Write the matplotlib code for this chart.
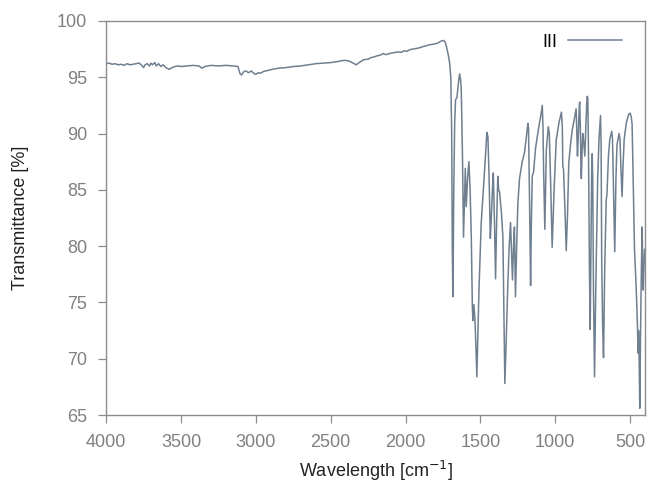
'''
IR spectrum of compound III
'''

import matplotlib
matplotlib.use('Agg')
import matplotlib.pyplot as plt

# wavenumber (cm^-1) and transmittance (%)
wavenumber = [
    4000, 3980, 3960, 3940, 3920, 3900, 3880, 3860, 3840, 3820,
    3800, 3780, 3765, 3750, 3740, 3725, 3710, 3700, 3690, 3675,
    3665, 3650, 3635, 3620, 3600, 3580, 3560, 3540, 3520, 3500,
    3460, 3420, 3380, 3360, 3340, 3300, 3250, 3200, 3150, 3120,
    3105, 3095, 3080, 3065, 3050, 3030, 3010, 3000, 2985, 2970,
    2950, 2920, 2890, 2850, 2800, 2750, 2700, 2650, 2600, 2550,
    2500, 2450, 2410, 2380, 2350, 2330, 2310, 2280, 2250, 2230,
    2210, 2190, 2170, 2150, 2130, 2110, 2090, 2070, 2050, 2030,
    2010, 1990, 1970, 1950, 1930, 1910, 1890, 1870, 1850, 1830,
    1810, 1790, 1770, 1755, 1745, 1735, 1725, 1715, 1705, 1698,
    1692, 1688, 1684, 1678, 1672, 1666, 1657, 1647, 1639, 1633,
    1628, 1620, 1613, 1607, 1601, 1595, 1586, 1577, 1569, 1561,
    1554, 1550, 1544, 1537, 1530, 1524, 1510, 1495, 1472, 1460,
    1457, 1450, 1442, 1434, 1427, 1420, 1414, 1406, 1399, 1392,
    1384, 1378, 1372, 1359, 1350, 1343, 1337, 1327, 1317, 1308,
    1299, 1292, 1286, 1279, 1273, 1269, 1266, 1258, 1250, 1239,
    1221, 1206, 1195, 1183, 1179, 1172, 1165, 1160, 1154, 1145,
    1132, 1110, 1098, 1087, 1082, 1079, 1074, 1070, 1065, 1060,
    1047, 1040, 1030, 1021, 1008, 994, 975, 959, 953, 950,
    945, 935, 927, 918, 910, 897, 887, 870, 861, 857,
    852, 846, 840, 837, 832, 828, 826, 820, 817, 812,
    806, 803, 795, 788, 783, 778, 772, 767, 762, 756,
    754, 750, 745, 738, 730, 717, 708, 698, 694, 690,
    684, 678, 670, 660, 655, 645, 636, 623, 618, 610,
    603, 595, 588, 574, 568, 562, 554, 548, 540, 525,
    510, 500, 493, 487, 480, 471, 462, 455, 451, 447,
    444, 440, 436, 431, 425, 420, 416, 413, 408, 404,
]
transmittance = [
    96.2, 96.25, 96.15, 96.2, 96.1, 96.15, 96.05, 96.2, 96.1, 96.15,
    96.2, 96.25, 96.1, 95.85, 96.1, 96.2, 96.0, 96.25, 96.1, 96.3,
    96.0, 96.2, 95.95, 96.1, 95.85, 95.7, 95.85, 95.95, 96.0, 95.95,
    96.0, 96.05, 96.0, 95.8, 95.95, 96.05, 96.0, 96.05, 96.0, 95.95,
    95.3, 95.2, 95.5, 95.55, 95.4, 95.55, 95.3, 95.25, 95.4, 95.35,
    95.5, 95.6, 95.7, 95.8, 95.85, 95.95, 96.0, 96.1, 96.2, 96.25,
    96.3, 96.4, 96.5, 96.45, 96.25, 96.1, 96.3, 96.55, 96.6, 96.75,
    96.8, 96.9, 96.95, 97.1, 97.0, 97.1, 97.15, 97.2, 97.25, 97.2,
    97.35, 97.3, 97.45, 97.5, 97.55, 97.6, 97.7, 97.75, 97.85, 97.9,
    97.95, 98.0, 98.15, 98.25, 98.25, 98.1, 97.6, 97.0, 96.2, 95.0,
    90.0, 80.0, 75.5, 85.0, 91.0, 93.0, 93.2, 94.5, 95.3, 94.8,
    93.9, 88.0, 80.8, 84.0, 86.9, 83.5, 86.0, 87.5, 85.0, 80.8,
    74.6, 73.4, 74.8, 73.6, 71.0, 68.4, 76.0, 82.0, 86.8, 89.5,
    90.1, 89.7, 86.0, 80.7, 82.6, 85.0, 86.5, 82.0, 77.1, 82.0,
    86.2, 85.0, 84.8, 82.8, 80.8, 74.0, 67.8, 72.0, 76.7, 80.0,
    82.1, 79.5, 77.0, 80.0, 81.7, 78.0, 75.5, 80.0, 83.8, 86.0,
    87.5, 88.3, 89.5, 90.9, 90.5, 84.0, 76.5, 82.0, 86.2, 86.6,
    88.7, 90.6, 91.5, 92.5, 90.5, 87.4, 84.0, 81.5, 85.0, 88.5,
    90.6, 90.0, 85.0, 79.9, 85.0, 89.4, 91.0, 91.9, 90.5, 87.1,
    86.8, 83.0, 79.6, 83.0, 87.4, 89.2, 90.3, 91.5, 92.2, 90.5,
    88.0, 90.0, 92.5, 92.8, 90.0, 86.5, 86.0, 89.0, 90.0, 89.5,
    88.5, 88.0, 91.0, 93.3, 93.2, 88.0, 78.0, 72.6, 80.0, 88.0,
    88.2, 86.0, 76.0, 68.4, 76.0, 86.0, 89.5, 91.6, 89.0, 78.5,
    73.0, 70.1, 78.0, 84.1, 84.6, 88.0, 89.5, 90.2, 89.5, 84.0,
    79.5, 86.0, 89.0, 90.0, 89.5, 87.0, 84.4, 87.0, 89.5, 91.0,
    91.7, 91.8, 91.5, 90.8, 86.0, 79.7, 77.0, 74.5, 72.7, 70.5,
    72.5, 70.0, 65.6, 72.0, 78.0, 81.7, 78.0, 76.1, 78.0, 79.7,
]

x_ticks = [4000, 3500, 3000, 2500, 2000, 1500, 1000, 500]
y_ticks = [65, 70, 75, 80, 85, 90, 95, 100]

plt.rcParams['font.family'] = ['Liberation Sans', 'DejaVu Sans']

fig = plt.figure(figsize=(6.51, 4.86), dpi=100)
ax = fig.add_axes([0.163, 0.146, 0.828, 0.811])

ax.plot(wavenumber, transmittance, color='#6f7f8f', linewidth=1.1, label='III')

ax.set_xlim(4000, 400)
ax.set_ylim(65, 100)
ax.set_xticks(x_ticks)
ax.set_yticks(y_ticks)

for side in ['left', 'right', 'top', 'bottom']:
    ax.spines[side].set_color('#8c8c8c')
    ax.spines[side].set_linewidth(1.0)
ax.tick_params(axis='both', direction='out', length=6, width=0.9,
               color='#8c8c8c', labelcolor='#808080', labelsize=13)
ax.tick_params(axis='x', pad=7.5)
ax.tick_params(axis='y', pad=7.5)

ax.set_xlabel('Wavelength [cm$^{-1}$]', fontsize=13, color='#222222', labelpad=6)
ax.set_ylabel('Transmittance [%]', fontsize=13, color='#222222', labelpad=20)

ax.legend(loc='upper right', bbox_to_anchor=(0.981, 1.0), frameon=False,
          markerfirst=False, fontsize=13, handlelength=3.0, handletextpad=0.6,
          borderaxespad=0.3)

fig.savefig('out.png', dpi=100)
